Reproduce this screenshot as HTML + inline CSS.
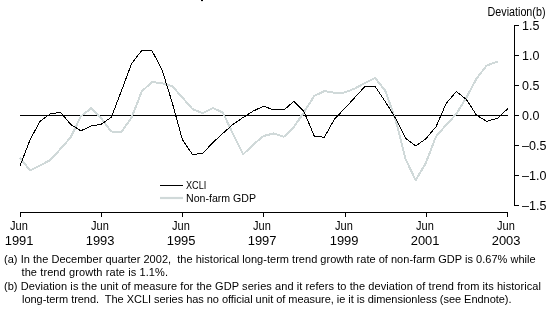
<!DOCTYPE html>
<html><head><meta charset="utf-8"><style>
html,body{margin:0;padding:0;background:#fff;width:551px;height:316px;overflow:hidden}
svg{display:block;font-family:"Liberation Sans",sans-serif}
.t{will-change:transform}
</style></head><body>
<svg width="551" height="316" viewBox="0 0 551 316">
<g stroke="#000" stroke-width="1" shape-rendering="crispEdges" fill="none">
<line x1="514.5" y1="25" x2="514.5" y2="206"/>
<line x1="514" y1="25.5" x2="519" y2="25.5"/>
<line x1="514" y1="55.5" x2="519" y2="55.5"/>
<line x1="514" y1="85.5" x2="519" y2="85.5"/>
<line x1="514" y1="115.5" x2="519" y2="115.5"/>
<line x1="514" y1="145.5" x2="519" y2="145.5"/>
<line x1="514" y1="175.5" x2="519" y2="175.5"/>
<line x1="514" y1="205.5" x2="519" y2="205.5"/>
<line x1="20" y1="212.5" x2="508" y2="212.5"/>
<line x1="20.5" y1="212" x2="20.5" y2="217"/>
<line x1="101.5" y1="212" x2="101.5" y2="217"/>
<line x1="182.5" y1="212" x2="182.5" y2="217"/>
<line x1="263.5" y1="212" x2="263.5" y2="217"/>
<line x1="345.5" y1="212" x2="345.5" y2="217"/>
<line x1="426.5" y1="212" x2="426.5" y2="217"/>
<line x1="507.5" y1="212" x2="507.5" y2="217"/>
<line x1="20" y1="115.5" x2="508" y2="115.5"/>
</g>
<path d="M20.00,157.80 L30.15,170.50 L40.29,165.40 L50.44,160.00 L60.58,148.80 L70.73,137.30 L80.88,116.30 L91.02,108.30 L101.17,118.40 L111.31,131.50 L121.46,132.00 L131.60,117.50 L141.75,91.50 L151.90,82.00 L162.04,83.30 L172.19,86.00 L182.33,97.50 L192.48,109.00 L202.62,113.20 L212.77,108.00 L222.92,112.60 L233.06,134.00 L243.21,154.30 L253.35,144.50 L263.50,136.00 L273.65,133.50 L283.79,136.80 L293.94,127.00 L304.08,112.00 L314.23,96.00 L324.38,91.00 L334.52,92.80 L344.67,92.50 L354.81,88.50 L364.96,83.00 L375.10,78.00 L385.25,90.70 L395.40,119.00 L405.54,159.00 L415.69,180.30 L425.83,163.00 L435.98,136.50 L446.12,125.00 L456.27,114.00 L466.42,97.50 L476.56,78.50 L486.71,65.50 L497.65,61.40" fill="none" stroke="#d0d9d9" stroke-width="2" stroke-linejoin="round" shape-rendering="crispEdges"/>
<path d="M20.00,166.00 L30.15,139.50 L40.29,121.00 L50.44,113.80 L60.58,112.30 L70.73,124.50 L80.88,130.80 L91.02,126.00 L101.17,124.20 L111.31,117.30 L121.46,90.80 L131.60,63.50 L141.75,50.50 L151.90,50.50 L162.04,69.80 L172.19,102.50 L182.33,139.50 L192.48,154.50 L202.62,153.50 L212.77,142.70 L222.92,133.30 L233.06,124.30 L243.21,117.40 L253.35,111.00 L263.50,106.20 L271.85,109.20 L284.99,109.10 L293.94,101.30 L304.08,111.80 L314.23,136.00 L324.38,137.30 L334.52,119.00 L344.67,108.50 L354.81,97.50 L364.96,86.50 L375.10,86.40 L385.25,101.50 L395.40,118.00 L405.54,138.30 L415.69,146.00 L425.83,138.80 L435.98,126.80 L446.12,103.50 L456.27,91.50 L466.42,99.50 L476.56,115.20 L486.71,121.30 L497.45,118.30 L508.00,108.50" fill="none" stroke="#000" stroke-width="1" shape-rendering="crispEdges"/>
<line x1="160" y1="185.5" x2="183" y2="185.5" stroke="#000" stroke-width="1" shape-rendering="crispEdges"/>
<line x1="160" y1="198" x2="183" y2="198" stroke="#d0d9d9" stroke-width="2.2"/>
<g class="t" fill="#000"><text x="487.5" y="16" font-size="12" textLength="58" lengthAdjust="spacingAndGlyphs" xml:space="preserve">Deviation(b)</text>
<text x="522" y="30" font-size="12.5" xml:space="preserve">1.5</text>
<text x="522" y="60" font-size="12.5" xml:space="preserve">1.0</text>
<text x="522" y="90" font-size="12.5" xml:space="preserve">0.5</text>
<text x="522" y="120" font-size="12.5" xml:space="preserve">0.0</text>
<text x="522" y="150" font-size="12.5" xml:space="preserve">–0.5</text>
<text x="522" y="180" font-size="12.5" xml:space="preserve">–1.0</text>
<text x="522" y="210" font-size="12.5" xml:space="preserve">–1.5</text>
<text x="18.9" y="230" font-size="12.5" textLength="17.8" lengthAdjust="spacingAndGlyphs" text-anchor="middle" xml:space="preserve">Jun</text>
<text x="19.1" y="245" font-size="12.5" textLength="28.8" lengthAdjust="spacingAndGlyphs" text-anchor="middle" xml:space="preserve">1991</text>
<text x="99.9" y="230" font-size="12.5" textLength="17.8" lengthAdjust="spacingAndGlyphs" text-anchor="middle" xml:space="preserve">Jun</text>
<text x="100.1" y="245" font-size="12.5" textLength="28.8" lengthAdjust="spacingAndGlyphs" text-anchor="middle" xml:space="preserve">1993</text>
<text x="180.9" y="230" font-size="12.5" textLength="17.8" lengthAdjust="spacingAndGlyphs" text-anchor="middle" xml:space="preserve">Jun</text>
<text x="181.1" y="245" font-size="12.5" textLength="28.8" lengthAdjust="spacingAndGlyphs" text-anchor="middle" xml:space="preserve">1995</text>
<text x="261.9" y="230" font-size="12.5" textLength="17.8" lengthAdjust="spacingAndGlyphs" text-anchor="middle" xml:space="preserve">Jun</text>
<text x="262.1" y="245" font-size="12.5" textLength="28.8" lengthAdjust="spacingAndGlyphs" text-anchor="middle" xml:space="preserve">1997</text>
<text x="343.9" y="230" font-size="12.5" textLength="17.8" lengthAdjust="spacingAndGlyphs" text-anchor="middle" xml:space="preserve">Jun</text>
<text x="344.1" y="245" font-size="12.5" textLength="28.8" lengthAdjust="spacingAndGlyphs" text-anchor="middle" xml:space="preserve">1999</text>
<text x="424.9" y="230" font-size="12.5" textLength="17.8" lengthAdjust="spacingAndGlyphs" text-anchor="middle" xml:space="preserve">Jun</text>
<text x="425.1" y="245" font-size="12.5" textLength="28.8" lengthAdjust="spacingAndGlyphs" text-anchor="middle" xml:space="preserve">2001</text>
<text x="505.9" y="230" font-size="12.5" textLength="17.8" lengthAdjust="spacingAndGlyphs" text-anchor="middle" xml:space="preserve">Jun</text>
<text x="506.1" y="245" font-size="12.5" textLength="28.8" lengthAdjust="spacingAndGlyphs" text-anchor="middle" xml:space="preserve">2003</text>
<text x="186" y="189" font-size="11" textLength="20.3" lengthAdjust="spacingAndGlyphs" xml:space="preserve">XCLI</text>
<text x="186" y="202" font-size="11" textLength="70.1" lengthAdjust="spacingAndGlyphs" xml:space="preserve">Non-farm GDP</text>
<text x="4" y="263" font-size="11" xml:space="preserve">(a)</text>
<text x="20.7" y="263" font-size="11" textLength="514.9" lengthAdjust="spacing" xml:space="preserve">In the December quarter 2002,  the historical long-term trend growth rate of non-farm GDP is 0.67% while</text>
<text x="21.5" y="276" font-size="11" textLength="146.5" lengthAdjust="spacing" xml:space="preserve">the trend growth rate is 1.1%.</text>
<text x="4" y="290" font-size="11" xml:space="preserve">(b)</text>
<text x="20.7" y="290" font-size="11" textLength="520.3" lengthAdjust="spacing" xml:space="preserve">Deviation is the unit of measure for the GDP series and it refers to the deviation of trend from its historical</text>
<text x="22" y="303" font-size="11" textLength="489.5" lengthAdjust="spacing" xml:space="preserve">long-term trend.  The XCLI series has no official unit of measure, ie it is dimensionless (see Endnote).</text></g>
<rect x="201" y="0" width="2" height="1.1" fill="#000"/>
</svg>
</body></html>
